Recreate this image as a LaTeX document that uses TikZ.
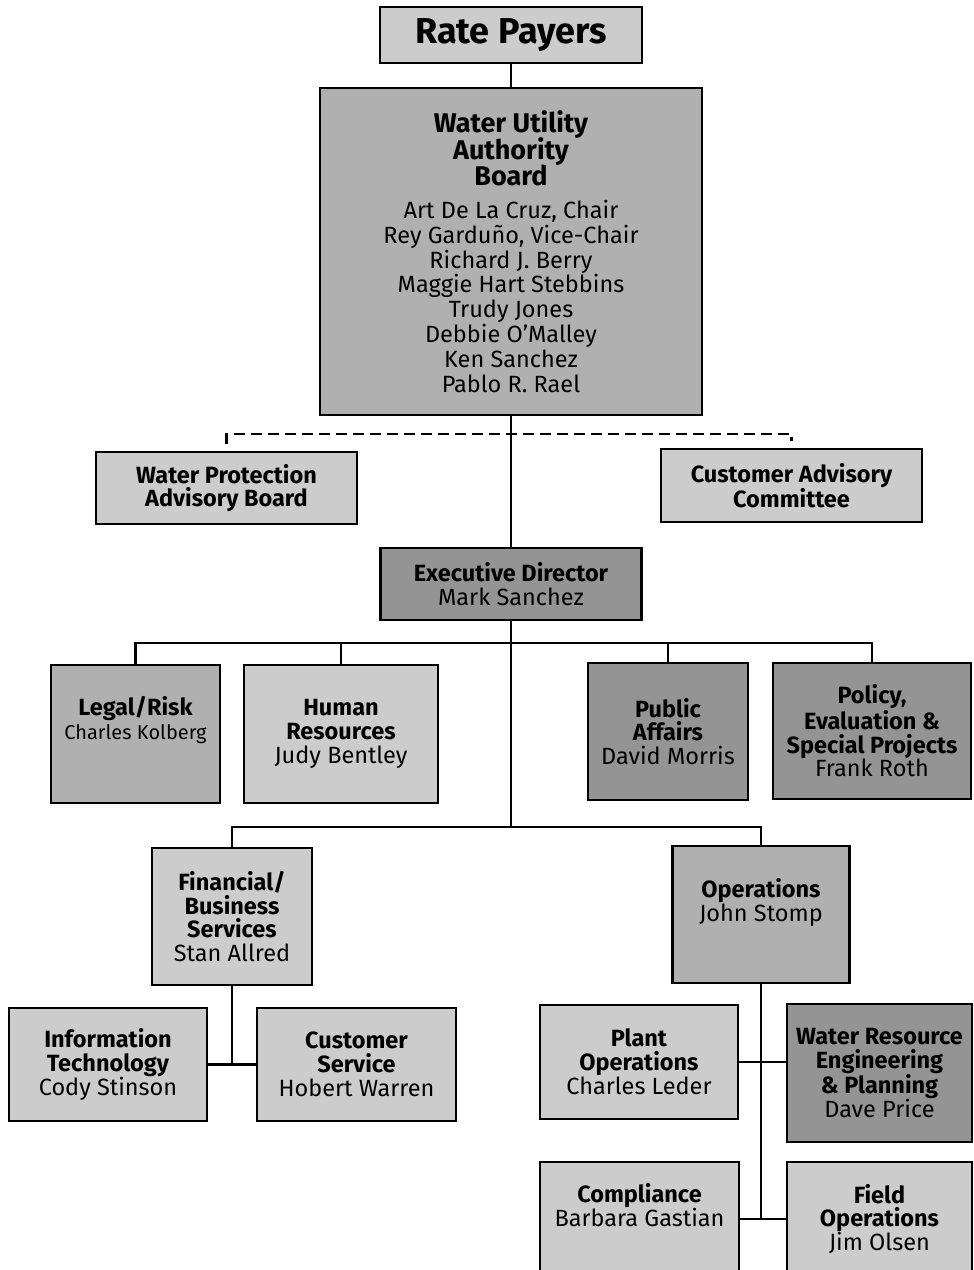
\documentclass[tikz,border=0pt]{standalone}
\usepackage{fontspec}
\setmainfont{Fira Sans}
\definecolor{pale}{gray}{0.80}
\definecolor{medium}{gray}{0.69}
\definecolor{deep}{gray}{0.58}
\newcommand{\boardhead}[1]{{\fontsize{27}{27.5}\selectfont\bfseries #1}}
\tikzset{
  unit/.style={draw, line width=2.8pt, inner sep=0pt, align=center, font=\fontsize{23.5}{23.8}\selectfont},
  link/.style={line width=2.8pt},
  advice/.style={line width=2.2pt, dash pattern=on 11pt off 6pt},
}
\begin{document}
\begin{tikzpicture}[x=1pt,y=-1pt]

\clip (0,0) rectangle (974,1270) ;
\fill[white] (0,0) rectangle (974,1270) ;

% conseil

\node[unit,fill=pale,minimum width=262pt,minimum height=56pt,font=\fontsize{36}{38}\selectfont\bfseries] (payers) at (511,35) {Rate Payers} ;

\node[unit,fill=medium,minimum width=382pt,minimum height=327pt] (board) at (511,251.5)
  {\boardhead{Water Utility}\\[-1.5pt]\boardhead{Authority}\\[-1.5pt]\boardhead{Board}\\[9pt]
   Art De La Cruz, Chair\\[1.1pt]Rey Garduño, Vice-Chair\\[1.1pt]Richard J. Berry\\[1.1pt]Maggie Hart Stebbins\\[1.1pt]Trudy Jones\\[1.1pt]Debbie O'Malley\\[1.1pt]Ken Sanchez\\[1.1pt]Pablo R. Rael} ;

\node[unit,fill=pale,minimum width=261pt,minimum height=72pt,font=\fontsize{23.5}{23.8}\selectfont\bfseries] (wpab) at (226.5,488) {Water Protection\\Advisory Board} ;
\node[unit,fill=pale,minimum width=261pt,minimum height=73pt,font=\fontsize{23.5}{23.8}\selectfont\bfseries] (cac) at (791.5,485.5) {Customer Advisory\\Committee} ;

% direction

\node[unit,fill=deep,minimum width=261pt,minimum height=72pt] (exec) at (511,584) {\textbf{Executive Director}\\Mark Sanchez} ;

\node[unit,fill=medium,minimum width=169pt,minimum height=138pt] (legal) at (135.5,734) {\textbf{Legal/Risk}\\\fontsize{20}{23.8}\selectfont Charles Kolberg\\[8pt]~} ;
\node[unit,fill=pale,minimum width=194pt,minimum height=138pt] (hr) at (341,734) {\textbf{Human}\\\textbf{Resources}\\Judy Bentley} ;
\node[unit,fill=deep,minimum width=160pt,minimum height=137pt] (pa) at (668,731.5) {\textbf{Public}\\\textbf{Affairs}\\David Morris} ;
\node[unit,fill=deep,minimum width=198pt,minimum height=136pt] (policy) at (872,731) {\textbf{Policy,}\\\textbf{Evaluation \&}\\\textbf{Special Projects}\\Frank Roth} ;

% services

\node[unit,fill=pale,minimum width=160pt,minimum height=137pt] (fin) at (232,916.5) {\textbf{Financial/}\\\textbf{Business}\\\textbf{Services}\\Stan Allred} ;
\node[unit,fill=medium,minimum width=177pt,minimum height=137pt] (ops) at (761,914.5) {\textbf{Operations}\\John Stomp\\[6pt]~} ;

\node[unit,fill=pale,minimum width=198pt,minimum height=113pt] (it) at (108,1064.5) {\textbf{Information}\\\textbf{Technology}\\Cody Stinson} ;
\node[unit,fill=pale,minimum width=199pt,minimum height=113pt] (cs) at (356.5,1064.5) {\textbf{Customer}\\\textbf{Service}\\Hobert Warren} ;

\node[unit,fill=pale,minimum width=198pt,minimum height=114pt] (plant) at (639,1062) {\textbf{Plant}\\\textbf{Operations}\\Charles Leder} ;
\node[unit,fill=deep,minimum width=185pt,minimum height=138pt] (wre) at (879.5,1073) {\textbf{Water Resource}\\\textbf{Engineering}\\\textbf{\& Planning}\\Dave Price} ;
\node[unit,fill=pale,minimum width=199pt,minimum height=114pt] (comp) at (639.5,1219) {\textbf{Compliance}\\Barbara Gastian\\[4pt]~} ;
\node[unit,fill=pale,minimum width=185pt,minimum height=114pt] (field) at (879.5,1219) {\textbf{Field}\\\textbf{Operations}\\Jim Olsen} ;

% traits

\coordinate (avis) at (511,434) ;
\coordinate (rang) at (511,643) ;
\coordinate (tronc) at (511,827) ;

\draw[link] (payers) -- (board) ;
\draw[link] (board) -- (exec) ;
\draw[link] (exec.south) -- (tronc) ;

\draw[advice] ([yshift=7pt]wpab.north) |- (avis) -| ([yshift=7pt]cac.north) ;

\draw[link] (legal.north) |- (rang) -| (policy.north) ;
\draw[link] (hr.north) -- (hr.north |- rang) ;
\draw[link] (pa.north) -- (pa.north |- rang) ;

\draw[link] (fin.north) |- (tronc) -| (ops.north) ;

\draw[link] (fin.south) -- (fin.south |- it.east) ;
\draw[link] (it.east) -- (cs.west) ;

\draw[link] (ops.south) -- (ops.south |- comp.east) ;
\draw[link] (plant.east) -- (plant.east -| wre.west) ;
\draw[link] (comp.east) -- (field.west) ;

\end{tikzpicture}
\end{document}
